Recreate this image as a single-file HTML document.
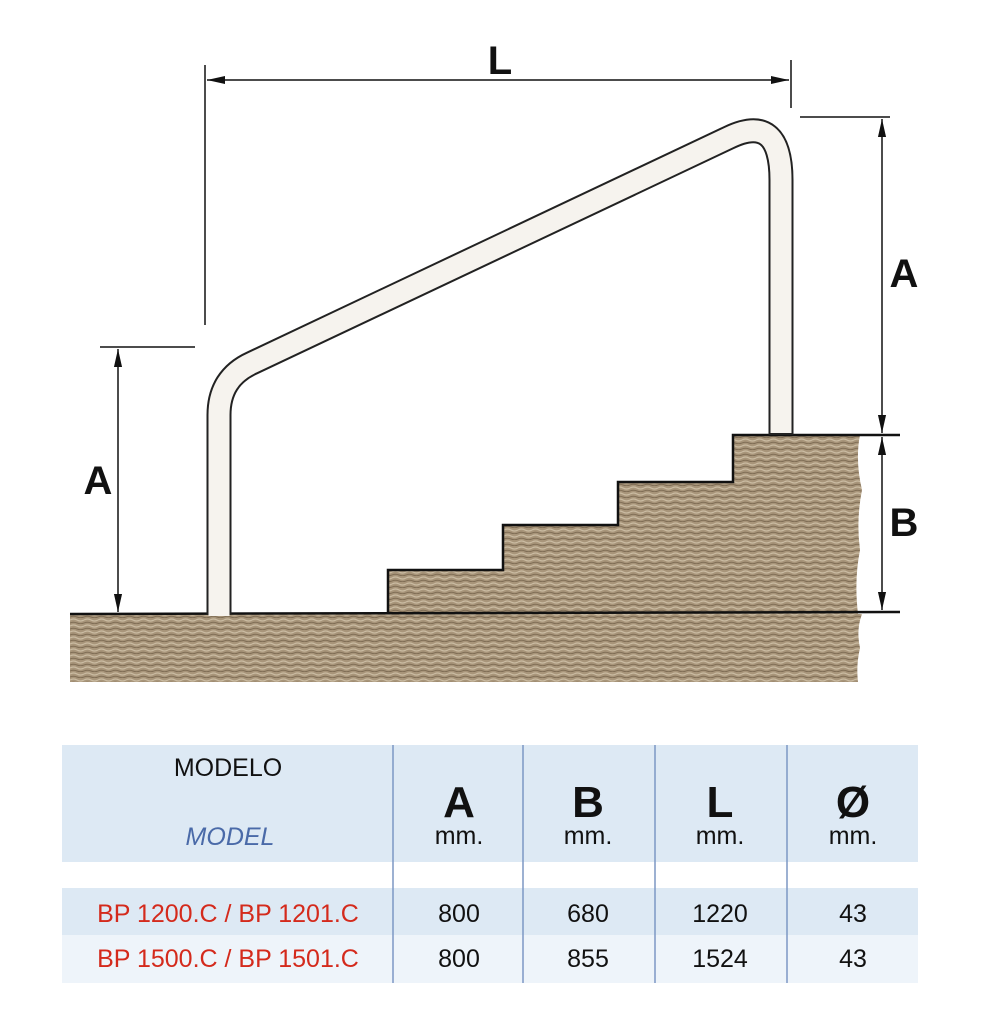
<!DOCTYPE html>
<html><head><style>
body{margin:0;background:#fff;}
svg{display:block}
</style></head><body>
<svg width="988" height="1024" viewBox="0 0 988 1024" xmlns="http://www.w3.org/2000/svg" font-family="Liberation Sans, sans-serif">
<defs>
<pattern id="tex" width="14" height="6" patternUnits="userSpaceOnUse">
<rect width="14" height="6" fill="#a8957a"/>
<path d="M0,2 q3.5,-2 7,0 t7,0" stroke="#cbbca3" stroke-width="1.2" fill="none"/>
<path d="M0,5 q3.5,-1.5 7,0 t7,0" stroke="#7f6d55" stroke-width="1" fill="none"/>
</pattern>
<marker id="ar" viewBox="0 0 20 10" refX="20" refY="5" markerWidth="18" markerHeight="9" orient="auto-start-reverse" markerUnits="userSpaceOnUse"><path d="M0,0.5 L20,5 L0,9.5 z" fill="#111"/></marker>
</defs>
<path d="M70,614 L862,614 Q856,630 860,648 Q856,665 858,682 L70,682 Z" fill="url(#tex)"/>
<path d="M388,614 L388,570 L503,570 L503,525 L618,525 L618,482 L733,482 L733,435 L860,435 Q855,460 862,490 Q856,520 860,550 Q854,580 858,614 Z" fill="url(#tex)"/>
<path d="M388,614 L388,570 L503,570 L503,525 L618,525 L618,482 L733,482 L733,435 L900,435" stroke="#111" stroke-width="2.5" fill="none"/>
<line x1="70" y1="614" x2="900" y2="612" stroke="#111" stroke-width="2.5"/>
<path d="M219,614 L219,415 Q219,378 252,363 L728,138 Q781,112 781,180 L781,435" stroke="#222" stroke-width="25" fill="none"/>
<path d="M219,616 L219,415 Q219,378 252,363 L728,138 Q781,112 781,180 L781,433" stroke="#f6f3ee" stroke-width="21" fill="none"/>
<g stroke="#111" stroke-width="1.5" fill="none">
<line x1="205" y1="65" x2="205" y2="325"/>
<line x1="791" y1="60" x2="791" y2="108"/>
<line x1="207" y1="80" x2="789" y2="80" marker-start="url(#ar)" marker-end="url(#ar)"/>
<line x1="800" y1="117" x2="890" y2="117"/>
<line x1="882" y1="119" x2="882" y2="433" marker-start="url(#ar)" marker-end="url(#ar)"/>
<line x1="882" y1="437" x2="882" y2="610" marker-start="url(#ar)" marker-end="url(#ar)"/>
<line x1="100" y1="347" x2="195" y2="347"/>
<line x1="118" y1="349" x2="118" y2="612" marker-start="url(#ar)" marker-end="url(#ar)"/>
</g>
<g font-weight="bold" font-size="40" fill="#111" text-anchor="middle">
<text x="500" y="74">L</text>
<text x="904" y="287">A</text>
<text x="904" y="536">B</text>
<text x="98" y="494">A</text>
</g>
<rect x="62" y="745" width="856" height="117" fill="#dde9f4"/>
<rect x="62" y="888" width="856" height="47" fill="#dde9f4"/>
<rect x="62" y="935" width="856" height="48" fill="#eef4fa"/>
<g stroke="#7d97c4" stroke-width="1.5">
<line x1="393" y1="745" x2="393" y2="983"/>
<line x1="523" y1="745" x2="523" y2="983"/>
<line x1="655" y1="745" x2="655" y2="983"/>
<line x1="787" y1="745" x2="787" y2="983"/>
</g>
<text x="228" y="776" font-size="25" fill="#111" text-anchor="middle">MODELO</text>
<text x="230" y="845" font-size="25" fill="#4a6aa8" font-style="italic" text-anchor="middle">MODEL</text>
<g font-weight="bold" font-size="44" fill="#111" text-anchor="middle">
<text x="459" y="817">A</text><text x="588" y="817">B</text><text x="720" y="817">L</text><text x="853" y="817">Ø</text>
</g>
<g font-size="25" fill="#111" text-anchor="middle">
<text x="459" y="844">mm.</text><text x="588" y="844">mm.</text><text x="720" y="844">mm.</text><text x="853" y="844">mm.</text>
<text x="459" y="922">800</text><text x="588" y="922">680</text><text x="720" y="922">1220</text><text x="853" y="922">43</text>
<text x="459" y="967">800</text><text x="588" y="967">855</text><text x="720" y="967">1524</text><text x="853" y="967">43</text>
</g>
<g font-size="25" fill="#d42a1c" text-anchor="middle">
<text x="228" y="922">BP 1200.C / BP 1201.C</text>
<text x="228" y="967">BP 1500.C / BP 1501.C</text>
</g>
</svg>
</body></html>
